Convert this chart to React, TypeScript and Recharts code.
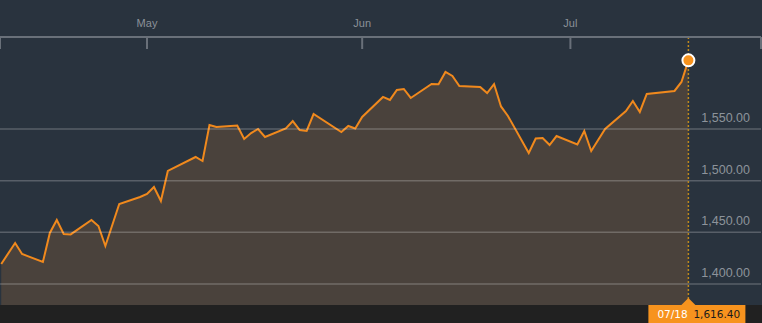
import { AreaChart, Area, XAxis, YAxis, ReferenceLine, ReferenceDot } from 'recharts';

// daily closes (weekdays only)
const dates = [
    '2012-04-10', '2012-04-12', '2012-04-13', '2012-04-16', '2012-04-17', '2012-04-18', '2012-04-19', '2012-04-20',
    '2012-04-23', '2012-04-24', '2012-04-25', '2012-04-27', '2012-04-30',
    '2012-05-01', '2012-05-02', '2012-05-03', '2012-05-04', '2012-05-08', '2012-05-09', '2012-05-10', '2012-05-11',
    '2012-05-14', '2012-05-15', '2012-05-16', '2012-05-17', '2012-05-18', '2012-05-21', '2012-05-22', '2012-05-23',
    '2012-05-24', '2012-05-25', '2012-05-29', '2012-05-30', '2012-05-31',
    '2012-06-01', '2012-06-04', '2012-06-05', '2012-06-06', '2012-06-07', '2012-06-08', '2012-06-11', '2012-06-12',
    '2012-06-13', '2012-06-14', '2012-06-15', '2012-06-18', '2012-06-19', '2012-06-20', '2012-06-21', '2012-06-22',
    '2012-06-25', '2012-06-26', '2012-06-27', '2012-06-28', '2012-06-29',
    '2012-07-02', '2012-07-03', '2012-07-04', '2012-07-06', '2012-07-09', '2012-07-10', '2012-07-11', '2012-07-12',
    '2012-07-16', '2012-07-17', '2012-07-18',
];

const closes = [
    1419.4, 1439.7, 1429.0, 1421.3, 1449.4, 1461.9, 1448.4, 1448.0,
    1462.0, 1456.1, 1436.8, 1477.4, 1484.2,
    1487.1, 1493.9, 1480.3, 1509.4, 1522.9, 1519.0, 1553.9, 1551.9,
    1553.4, 1540.3, 1546.1, 1550.0, 1542.3, 1550.5, 1557.7, 1549.0,
    1548.1, 1564.5, 1547.1, 1552.9, 1550.5,
    1561.6, 1581.0, 1578.1, 1587.7, 1588.7, 1580.0, 1593.5, 1593.3,
    1605.2, 1601.3, 1591.6, 1590.6, 1584.8, 1593.5, 1571.8, 1562.6,
    1526.8, 1540.8, 1541.3, 1534.5, 1543.2,
    1535.0, 1548.1, 1528.7, 1550.0, 1567.4, 1577.1, 1566.5, 1583.9,
    1586.8, 1595.5, 1616.4,
];

const monthTicks = ['2012-05-01', '2012-06-01', '2012-07-01'];
const monthLabels = ['May', 'Jun', 'Jul'];
const priceTicks = [1400, 1450, 1500, 1550];

const origin = Date.UTC(2012, 4, 1);
const dayOf = (s: string) => {
    const [y, m, d] = s.split('-').map(Number);
    return (Date.UTC(y, m - 1, d) - origin) / 86400000;
};

const data = dates.map((date, i) => ({ date, day: dayOf(date), close: closes[i] }));
const last = data[data.length - 1];

const xMin = -21.18;
const xMax = 88.46;
const monthDays = monthTicks.map(dayOf);
const xTicks = [xMin, ...monthDays, xMax];

const fmt = (v: number) => v.toLocaleString('en-US', { minimumFractionDigits: 2, maximumFractionDigits: 2 });

const MonthTick = (props: any) => {
    const { x, y, payload } = props;
    const i = monthDays.indexOf(payload.value);
    return (
        <g>
            <line x1={x} x2={x} y1={y} y2={y + 12} stroke="#697079" strokeWidth={2} />
            {i >= 0 && (
                <text x={x} y={y - 10} textAnchor="middle" fill="#8b9199" fontSize={11}
                    fontFamily="'Liberation Sans', Arial, sans-serif">{monthLabels[i]}</text>
            )}
        </g>
    );
};

// price label sits above its grid line, at the right edge of the plot
const PriceLabel = (props: any) => {
    const { viewBox, value } = props;
    if (!viewBox) return null;
    return (
        <text x={viewBox.x + viewBox.width - 11} y={viewBox.y - 7} textAnchor="end" fill="#8d939b" fontSize={12.5}
            fontFamily="'Liberation Sans', Arial, sans-serif">{fmt(value)}</text>
    );
};

const PriceTag = (props: any) => {
    const { viewBox } = props;
    if (!viewBox) return null;
    const cx = viewBox.x;
    const bottom = viewBox.y + viewBox.height;
    const [, mm, dd] = last.date.split('-');
    return (
        <g>
            <polygon points={`${cx - 7},${bottom} ${cx},${bottom - 7} ${cx + 7},${bottom}`} fill="#f7931e" />
            <rect x={cx - 40} y={bottom} width={97} height={18} fill="#f7931e" />
            <text x={cx - 31} y={bottom + 13} fill="#ffffff" fontSize={10.5} fontFamily="'DejaVu Sans', Verdana, sans-serif">{`${mm}/${dd}`}</text>
            <text x={cx + 5} y={bottom + 13} fill="#1b1b1b" fontSize={10.5} fontFamily="'DejaVu Sans', Verdana, sans-serif">{fmt(last.close)}</text>
        </g>
    );
};

const App = () => {
    return (
        <div style={{ position: 'absolute', left: 0, top: 0, width: 762, height: 323, background: '#29333e' }}>
            <div style={{ position: 'absolute', left: 0, top: 305, width: 762, height: 18, background: '#212121' }} />
            <div style={{ position: 'absolute', left: 0, top: 0 }}>
                <AreaChart width={762} height={323} data={data} margin={{ top: 0, right: 1, bottom: 18, left: 0 }}>
                    <XAxis dataKey="day" type="number" orientation="top" height={37} domain={[xMin, xMax]}
                        ticks={xTicks} allowDataOverflow interval={0} tickSize={0} tickMargin={0}
                        axisLine={{ stroke: '#697079', strokeWidth: 2 }} tickLine={false} tick={<MonthTick />} />
                    <YAxis type="number" hide domain={[1379.7, 1639]} ticks={priceTicks} allowDataOverflow />
                    <Area type="linear" dataKey="close" stroke="#f0891d" strokeWidth={2} fill="#4a423c" fillOpacity={1}
                        dot={false} activeDot={false} isAnimationActive={false} />
                    {priceTicks.map(v => (
                        <ReferenceLine key={v} y={v} stroke="rgba(255,255,255,0.22)" strokeWidth={1.5}
                            label={<PriceLabel value={v} />} />
                    ))}
                    <ReferenceLine x={last.day} stroke="#c08a1c" strokeWidth={1.5} strokeDasharray="2 2" label={<PriceTag />} />
                    <ReferenceDot x={last.day} y={last.close} r={6} fill="#f7931e" stroke="#ffffff" strokeWidth={2} />
                </AreaChart>
            </div>
        </div>
    );
};

export default App;
